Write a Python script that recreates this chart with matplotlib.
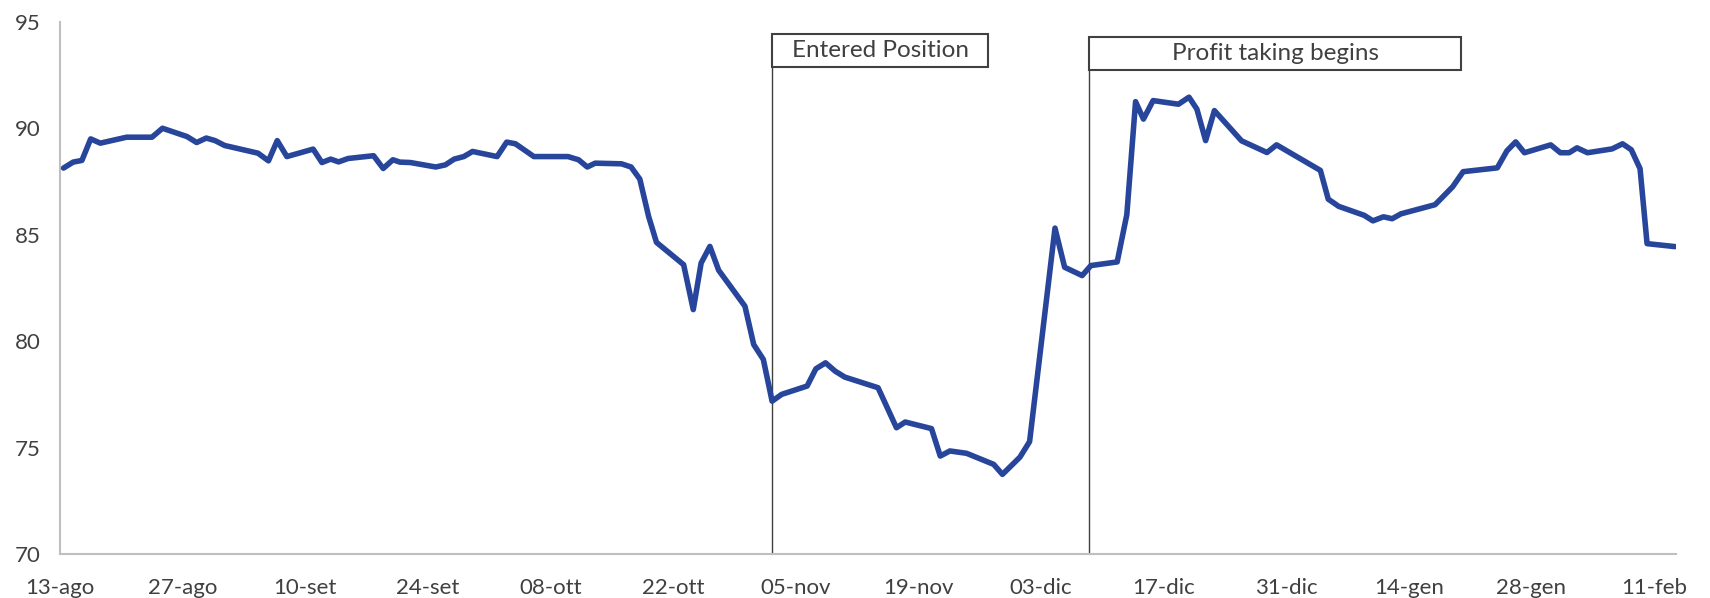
import matplotlib
matplotlib.use("Agg")
import matplotlib.pyplot as plt
from matplotlib.patches import Rectangle

# days since 13-ago and price
days = [0.4, 1.5, 2.5, 3.5, 4.6, 7.6, 10.5, 11.7, 14.5, 15.6, 16.7, 17.7, 18.8,
        22.6, 23.8, 24.8, 25.9, 28.9, 29.9, 30.9, 31.8, 32.9, 35.8, 36.9, 38.0,
        38.8, 40.0, 42.9, 44.0, 45.0, 46.1, 47.1, 49.9, 51.0, 52.0, 54.1, 58.0,
        59.2, 60.2, 61.1, 64.1, 65.2, 66.2, 67.2, 68.1, 71.2, 72.3, 73.2, 74.2,
        75.2, 78.2, 79.2, 80.3, 81.3, 82.4, 85.3, 86.3, 87.4, 88.5, 89.6, 93.4,
        95.5, 96.5, 99.5, 100.5, 101.6, 103.5, 106.6, 107.6, 109.6, 110.7, 113.6,
        114.7, 116.7, 117.7, 120.7, 121.8, 122.8, 123.7, 124.8, 127.7, 128.9,
        129.8, 130.8, 131.8, 134.9, 137.8, 138.9, 143.9, 144.8, 146.0, 148.9,
        149.9, 151.1, 152.1, 153.1, 157.0, 159.0, 160.2, 164.1, 165.2, 166.2,
        167.2, 170.2, 171.3, 172.3, 173.2, 174.4, 177.2, 178.4, 179.4, 180.4,
        181.2, 184.4]
price = [88.13, 88.41, 88.49, 89.50, 89.30, 89.58, 89.58, 90.00, 89.61, 89.33,
         89.54, 89.42, 89.19, 88.83, 88.47, 89.42, 88.67, 89.02, 88.39, 88.55,
         88.42, 88.58, 88.71, 88.11, 88.52, 88.41, 88.39, 88.18, 88.28, 88.55,
         88.67, 88.91, 88.67, 89.35, 89.27, 88.67, 88.67, 88.52, 88.18, 88.36,
         88.33, 88.18, 87.61, 85.86, 84.64, 83.59, 81.48, 83.67, 84.45, 83.33,
         81.64, 79.84, 79.14, 77.18, 77.50, 77.89, 78.70, 78.98, 78.59, 78.31,
         77.81, 75.93, 76.20, 75.89, 74.60, 74.84, 74.73, 74.21, 73.74, 74.55,
         75.28, 85.31, 83.47, 83.08, 83.55, 83.72, 85.94, 91.25, 90.43, 91.30,
         91.13, 91.46, 90.90, 89.42, 90.83, 89.41, 88.86, 89.22, 88.02, 86.67,
         86.33, 85.91, 85.65, 85.84, 85.75, 85.98, 86.41, 87.25, 87.96, 88.14,
         88.94, 89.36, 88.85, 89.22, 88.85, 88.85, 89.08, 88.85, 89.03, 89.27,
         88.99, 88.10, 84.58, 84.44]

tick_days = [0, 14, 28, 42, 56, 70, 84, 98, 112, 126, 140, 154, 168, 182]
tick_labels = ['13-ago', '27-ago', '10-set', '24-set', '08-ott', '22-ott', '05-nov',
               '19-nov', '03-dic', '17-dic', '31-dic', '14-gen', '28-gen', '11-feb']

event_days = [81.3, 117.5]
event_labels = ['Entered Position', 'Profit taking begins']

plt.rcParams['font.family'] = ['Lato', 'DejaVu Sans']
txt_color = '#404040'

fig = plt.figure(figsize=(17.1, 5.98), dpi=100)
ax = fig.add_axes([0.0351, 0.0736, 0.9450, 0.8899])

ax.plot(days, price, color='#27459A', linewidth=4.0, solid_joinstyle='round',
        solid_capstyle='round', zorder=3)

ax.set_xlim(0, 184.5)
ax.set_ylim(70, 95)
ax.set_yticks([70, 75, 80, 85, 90, 95])
ax.set_xticks(tick_days)
ax.set_xticklabels(tick_labels)

for s in ['top', 'right']:
    ax.spines[s].set_visible(False)
for s in ['left', 'bottom']:
    ax.spines[s].set_color('#BFBFBF')
    ax.spines[s].set_linewidth(1.5)
ax.tick_params(axis='both', length=0, labelsize=16, labelcolor=txt_color)
ax.tick_params(axis='y', pad=14)
ax.tick_params(axis='x', pad=17)

# event markers: vertical line + boxed label
box_w = [24.7, 42.5]
box_bottom = [92.88, 92.72]
box_h = 1.55
for d, lab, w, b in zip(event_days, event_labels, box_w, box_bottom):
    ax.vlines(d, 70, b, color='#404040', linewidth=1.0, zorder=2)
    ax.add_patch(Rectangle((d, b), w, box_h, facecolor='white', edgecolor='#404040',
                           linewidth=1.5, clip_on=False, zorder=4))
    ax.text(d + w / 2, b + box_h / 2, lab, ha='center', va='center', fontsize=17.5,
            color=txt_color, zorder=5)

fig.savefig('out.png', dpi=100)
